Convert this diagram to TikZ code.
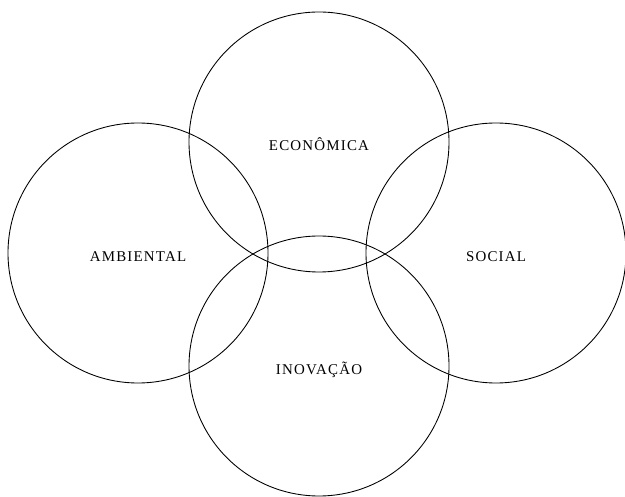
\documentclass[tikz,border=0pt]{standalone}
\usepackage{fontspec}
\setmainfont{Liberation Serif}
\usepackage{tikz}
\usetikzlibrary{positioning}

\tikzset{pilar/.style={draw, circle, minimum size=5.2cm, inner sep=0pt, line width=0.5pt, text height=9.5pt, text depth=0pt, font=\fontsize{8.5}{8.5}\selectfont\addfontfeatures{LetterSpace=8}}}

\begin{document}
\begin{tikzpicture}
	\useasboundingbox (0,0) rectangle (12.5,-9.94);
	\node[pilar] (economica) at (6.38,-2.84) {ECONÔMICA};
	\node[pilar] (ambiental) at (2.76,-5.06) {AMBIENTAL};
	\node[pilar] (social) at (9.92,-5.06) {SOCIAL};
	\node[pilar] (inovacao) at (6.38,-7.32) {INOVAÇÃO};
\end{tikzpicture}
\end{document}
